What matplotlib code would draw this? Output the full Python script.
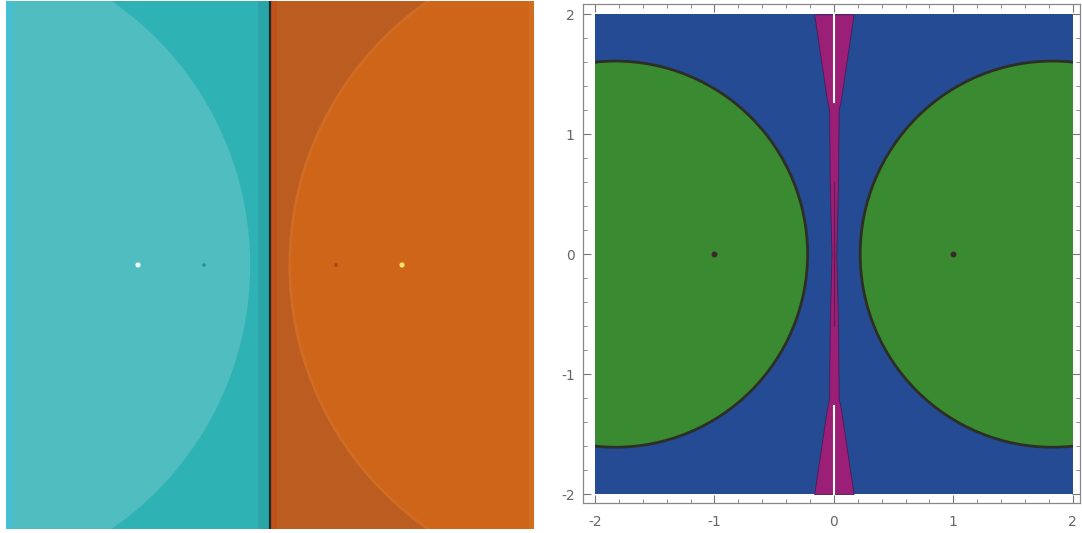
import matplotlib
matplotlib.use("Agg")
import matplotlib.pyplot as plt
import numpy as np
from matplotlib.patches import Circle, Rectangle

# roots of the polynomial and the extra fixed points seen on the left panel
roots = [-1.0, 1.0]
extra_pts = [-0.5, 0.5]

# left panel: basin halves and the disks of fast convergence
left_disk_x = [-2.58, 2.58]
left_disk_r = [2.43, 2.43]
left_cols = {"cyan_out": "#2fb2b4", "cyan_in": "#50bdc1", "cyan_edge": "#46bfd2",
             "cyan_strip": "#29a5a8", "orange_out": "#bb5d20", "orange_in": "#cf6519",
             "orange_edge": "#d26c1f", "orange_strip": "#c2501b"}
root_cols = ["#f4fbff", "#ffe566"]
extra_cols = ["#1d8f94", "#9a4418"]

# right panel: green disks, magenta hourglass profile (|y| -> half width)
disk_x = [-1.83, 1.83]
disk_r = [1.61, 1.61]
mag_y = [0.0, 0.6, 1.2, 1.3, 2.0]
mag_hw = [0.02, 0.035, 0.04, 0.06, 0.165]
white_y = [1.27, 2.0]

blue = "#244b94"
green = "#3a8a32"
magenta = "#9c1f77"

fig = plt.figure(figsize=(10.82, 5.33), dpi=100)

# ---- left panel
ax1 = fig.add_axes([6 / 1082, 1 - 529 / 533, 528 / 1082, 528 / 533])
ax1.set_xlim(-2, 2)
ax1.set_ylim(-2, 2)
ax1.axis("off")

ax1.add_patch(Rectangle((-2, -2), 2, 4, color=left_cols["cyan_out"], lw=0))
ax1.add_patch(Rectangle((0, -2), 2, 4, color=left_cols["orange_out"], lw=0))
cl = Rectangle((-2, -2), 2, 4, transform=ax1.transData)
cr = Rectangle((0, -2), 2, 4, transform=ax1.transData)
c1 = Circle((left_disk_x[0], 0), left_disk_r[0], color=left_cols["cyan_in"], lw=0)
ax1.add_patch(c1)
c1.set_clip_path(cl)
c2 = Circle((left_disk_x[1], 0), left_disk_r[1], facecolor=left_cols["orange_in"],
            edgecolor="#d06c24", lw=2)
ax1.add_patch(c2)
c2.set_clip_path(cr)
# thin strips at the edges and along the divider
ax1.add_patch(Rectangle((-2, -2), 0.05, 4, color=left_cols["cyan_edge"], lw=0))
ax1.add_patch(Rectangle((-0.09, -2), 0.09, 4, color=left_cols["cyan_strip"], lw=0))
ax1.add_patch(Rectangle((0, -2), 0.05, 4, color=left_cols["orange_strip"], lw=0))
ax1.add_patch(Rectangle((0.05, -2), 0.04, 4, color=left_cols["orange_out"], lw=0))
ax1.add_patch(Rectangle((1.96, -2), 0.04, 4, color=left_cols["orange_edge"], lw=0))
ax1.axvline(0, color="#1b2b2b", lw=1.6)
ax1.scatter(roots, [0, 0], s=14, c=root_cols, zorder=5, linewidths=0)
ax1.scatter(extra_pts, [0, 0], s=6, c=extra_cols, zorder=5, linewidths=0)

# ---- right panel
ax2 = fig.add_axes([583 / 1082, 1 - 503 / 533, 497 / 1082, 499.5 / 533])
ax2.set_xlim(-2.10, 2.06)
ax2.set_ylim(-2.075, 2.09)

sq = Rectangle((-2, -2), 4, 4, transform=ax2.transData)
ax2.add_patch(Rectangle((-2, -2), 4, 4, color=blue, lw=0))
for cx, r in zip(disk_x, disk_r):
    c = Circle((cx, 0), r, facecolor=green, edgecolor="#2e2f24", lw=2.0)
    ax2.add_patch(c)
    c.set_clip_path(sq)

yy = np.array(mag_y)
hw = np.array(mag_hw)
y_full = np.concatenate([-yy[::-1], yy[1:]])
hw_full = np.concatenate([hw[::-1], hw[1:]])
ax2.fill_betweenx(y_full, -hw_full, hw_full, color=magenta, edgecolor="#4a1a55", lw=0.6)
for s in [1, -1]:
    ax2.plot([0, 0], [s * white_y[0], s * white_y[1]], color="white", lw=1.5)
ax2.plot([0, 0], [-0.6, 0.6], color="#3a1830", lw=0.8, alpha=0.6)
ax2.scatter(roots, [0, 0], s=18, c="#3b2828", zorder=5, linewidths=0)

ax2.set_xticks([-2, -1, 0, 1, 2])
ax2.set_yticks([-2, -1, 0, 1, 2])
ax2.set_xticklabels(["-2", "-1", "0", "1", "2"])
ax2.set_yticklabels(["-2", "-1", "0", "1", "2"])
ax2.set_xticks(np.arange(-2, 2.01, 0.2), minor=True)
ax2.set_yticks(np.arange(-2, 2.01, 0.2), minor=True)
ax2.tick_params(which="both", direction="in", top=True, right=True,
                color="#777777", labelcolor="#666666", labelsize=10)
ax2.tick_params(which="major", length=6, width=0.8, pad=6)
ax2.tick_params(axis="x", which="major", pad=9)
ax2.tick_params(which="minor", length=3, width=0.6)
for sp in ax2.spines.values():
    sp.set_color("#888888")
    sp.set_linewidth(0.9)

plt.savefig("out.png", dpi=100)
